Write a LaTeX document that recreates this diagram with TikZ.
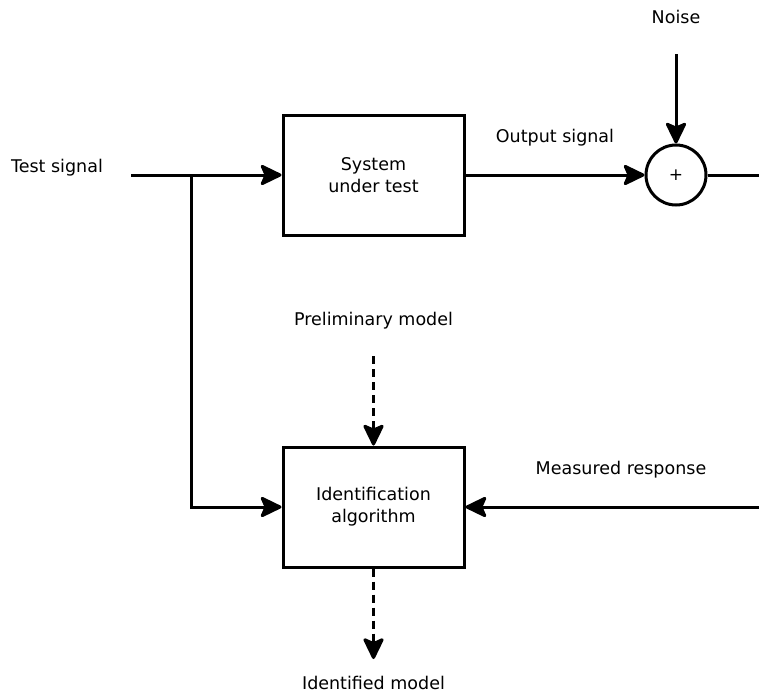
\documentclass[tikz,border=0pt]{standalone}
\usepackage{fontspec}
\setmainfont{DejaVu Sans}
\usetikzlibrary{arrows.meta}
\begin{document}
\begin{tikzpicture}[x=1pt,y=-1pt,
  every node/.style={font=\fontsize{17.5}{22}\selectfont},
  blk/.style={draw,line width=3pt,minimum width=181pt,minimum height=120pt,align=center,inner sep=0pt},
  sumnode/.style={draw,circle,line width=3pt,minimum size=60pt,inner sep=0pt},
  lbl/.style={inner sep=0pt,align=center},
  wire/.style={line width=3pt},
  sig/.style={wire,-{Stealth[length=24pt,width=23pt,inset=5pt,round]}},
  dsig/.style={sig,dash pattern=on 8pt off 5pt}]
\useasboundingbox (0,0) rectangle (759,694);

% blocks
\node[blk] (sut) at (373.5,175) {System\\under test};
\node[blk] (ida) at (373.5,507) {Identification\\algorithm};
\node[sumnode] (sum) at (676,175) {\fontsize{17}{19}\selectfont +};

% labels
\node[lbl] (tsig) at (57,168) {Test signal};
\node[lbl] (osig) at (555,138) {Output signal};
\node[lbl] (noise) at (676,17) {Noise};
\node[lbl] (prel) at (373.5,321) {Preliminary model};
\node[lbl] (meas) at (621,470) {Measured response};
\node[lbl] (idm) at (373.5,683) {Identified model};

% connector end points
\coordinate (tin) at (131,175);
\coordinate (branch) at (191,175);
\coordinate (nin) at (676,54);
\coordinate (sout) at (760,175);
\coordinate (min) at (760,507);
\coordinate (pin) at (373.5,356);
\coordinate (pout) at (373.5,659);

% signal paths
\draw[sig] (tin) -- (sut.west);
\draw[sig] (branch) |- (ida.west);
\draw[sig] (sut.east) -- (sum.west);
\draw[sig] (nin) -- (sum.north);
\draw[wire] (sum.east) -- (sout);
\draw[sig] (min) -- (ida.east);
\draw[dsig] (pin) -- (ida.north);
\draw[dsig] (ida.south) -- (pout);
\end{tikzpicture}
\end{document}
